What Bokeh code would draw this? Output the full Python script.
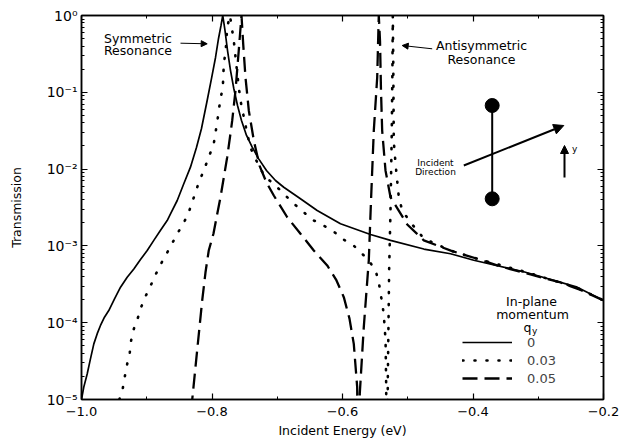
from bokeh.plotting import figure
from bokeh.models import (Range1d, FixedTicker, LinearAxis, LogAxis, Arrow, NormalHead,
                          Label, Legend, LegendItem, CustomJSTickFormatter)
from bokeh.embed import file_html
from bokeh.resources import INLINE

# ---------------- data ----------------
x_q0 = [-1.0, -0.9965, -0.9913, -0.9862, -0.9811, -0.9759, -0.9709, -0.9648, -0.9582, -0.9494,
        -0.9402, -0.930, -0.9198, -0.9096, -0.8993, -0.8892, -0.8789, -0.8687, -0.8636, -0.8533,
        -0.8437, -0.8330, -0.8238, -0.8161, -0.8074, -0.8008, -0.7946, -0.7900, -0.7862, -0.7835,
        -0.7801, -0.7762, -0.7716, -0.7666, -0.7609, -0.7548, -0.7471, -0.7384, -0.7287, -0.7165,
        -0.7027, -0.6900, -0.6650, -0.6388, -0.6031, -0.5571, -0.5264, -0.4754, -0.4345, -0.3988,
        -0.3222, -0.2403, -0.2]
t_q0 = [1.0e-5, 1.45e-5, 2.15e-5, 3.4e-5, 5.3e-5, 7.2e-5, 9.2e-5, 1.18e-4, 1.44e-4, 2.04e-4,
        2.9e-4, 3.9e-4, 5.0e-4, 6.65e-4, 8.7e-4, 1.18e-3, 1.6e-3, 2.14e-3, 2.62e-3, 3.9e-3,
        6.3e-3, 0.0106, 0.0191, 0.0338, 0.0782, 0.151, 0.284, 0.502, 0.741, 1.0,
        0.638, 0.350, 0.192, 0.112, 0.0673, 0.0430, 0.0274, 0.0193, 0.0137, 9.6e-3,
        7.1e-3, 5.8e-3, 4.14e-3, 2.89e-3, 1.94e-3, 1.41e-3, 1.18e-3, 9.1e-4, 7.9e-4, 6.5e-4,
        4.6e-4, 2.9e-4, 1.95e-4]

x_q003 = [-0.9420, -0.9367, -0.9336, -0.930, -0.926, -0.9239, -0.9198, -0.9137, -0.9085, -0.9019,
          -0.8943, -0.8866, -0.878, -0.8697, -0.861, -0.8524, -0.8432, -0.8356, -0.8279, -0.8202,
          -0.8126, -0.805, -0.7973, -0.792, -0.7896, -0.787, -0.7834, -0.7819, -0.779, -0.7767,
          -0.7725, -0.7666, -0.764, -0.7614, -0.759, -0.7563, -0.7513, -0.746, -0.741, -0.7333,
          -0.7257, -0.718, -0.7027, -0.677, -0.6464, -0.616, -0.598, -0.585, -0.5724, -0.560,
          -0.5494, -0.5444, -0.5418, -0.539, -0.5367, -0.534, -0.533, -0.5325, -0.5305, -0.5295,
          -0.5285, -0.5264, -0.5245, -0.5235, -0.5229, -0.5222, -0.5214, -0.5188, -0.5137, -0.5085,
          -0.4958, -0.4754, -0.4345, -0.3935, -0.3222, -0.2403, -0.2]
t_q003 = [1.0e-5, 1.4e-5, 2.0e-5, 2.9e-5, 4.1e-5, 5.9e-5, 8.3e-5, 1.15e-4, 1.6e-4, 2.2e-4,
          3.0e-4, 4.2e-4, 5.9e-4, 7.9e-4, 1.08e-3, 1.48e-3, 2.0e-3, 2.75e-3, 4.27e-3, 6.7e-3,
          9.6e-3, 0.0143, 0.0214, 0.041, 0.058, 0.082, 0.117, 0.235, 0.35, 0.7,
          1.0, 0.47, 0.29, 0.18, 0.117, 0.078, 0.048, 0.029, 0.019, 0.0136,
          0.010, 7.9e-3, 6.1e-3, 3.7e-3, 2.2e-3, 1.6e-3, 1.2e-3, 1.05e-3, 8.3e-4, 6.5e-4,
          4.8e-4, 3.4e-4, 2.4e-4, 1.8e-4, 1.25e-4, 5.9e-5, 1.4e-5, 1.0e-7, 2.0e-5, 1.0e-4,
          5.0e-4, 3.0e-3, 0.03, 0.2, 1.0, 0.25, 0.023, 0.012, 4.3e-3, 2.9e-3,
          2.02e-3, 1.25e-3, 8.7e-4, 6.8e-4, 4.65e-4, 2.85e-4, 1.95e-4]

x_q005 = [-0.8314, -0.8303, -0.8227, -0.815, -0.810, -0.805, -0.7977, -0.792, -0.787, -0.7767,
          -0.7717, -0.769, -0.764, -0.759, -0.7548, -0.7522, -0.7487, -0.7436, -0.7359, -0.7272,
          -0.7165, -0.7053, -0.6847, -0.6644, -0.644, -0.6234, -0.6092, -0.598, -0.5893, -0.5827,
          -0.5775, -0.5755, -0.5735, -0.5674, -0.5597, -0.5563, -0.552, -0.5468, -0.5444, -0.5425,
          -0.541, -0.5392, -0.5341, -0.5264, -0.5008, -0.4754, -0.433, -0.3935, -0.3579, -0.3119,
          -0.2659, -0.2352, -0.2]
t_q005 = [7.2e-6, 1.0e-5, 4.4e-5, 1.95e-4, 4.5e-4, 8.7e-4, 1.45e-3, 2.6e-3, 4.3e-3, 0.0143,
          0.029, 0.043, 0.105, 0.35, 1.0, 0.428, 0.157, 0.058, 0.0236, 0.0111,
          6.7e-3, 4.53e-3, 2.36e-3, 1.44e-3, 8.7e-4, 5.56e-4, 3.55e-4, 2.15e-4, 1.13e-4, 5.3e-5,
          1.45e-5, 1.0e-7, 1.2e-5, 8.7e-5, 6.5e-4, 3.9e-3, 0.032, 0.157, 1.0, 0.47,
          0.105, 0.0318, 9.6e-3, 4.3e-3, 1.9e-3, 1.18e-3, 8.6e-4, 6.8e-4, 5.4e-4, 4.25e-4,
          3.34e-4, 2.67e-4, 1.95e-4]

series_labels = ["0", "0.03", "0.05"]

x_ticks = [-1.0, -0.8, -0.6, -0.4, -0.2]
x_tick_labels = ["\u22121.0", "\u22120.8", "\u22120.6", "\u22120.4", "\u22120.2"]
x_minor_ticks = [-0.9, -0.7, -0.5, -0.3]
y_ticks = [1e-5, 1e-4, 1e-3, 1e-2, 1e-1, 1.0]
y_tick_labels = ["10\u207b\u2075", "10\u207b\u2074", "10\u207b\u00b3", "10\u207b\u00b2", "10\u207b\u00b9", "10\u2070"]
y_minor_ticks = [m * 10.0 ** e for e in range(-5, 0) for m in range(2, 10)]

# ---------------- styling helpers ----------------
FONT = "DejaVu Sans"
L, R, T, B = 81, 603, 15, 399   # frame edges in pixels


def dx(px):
    return -1.0 + (px - L) * 0.8 / (R - L)


def dy(py):
    return 10 ** (-(py - T) * 5.0 / (B - T))


p = figure(width=631, height=445, x_range=Range1d(-1.0, -0.2), y_range=Range1d(1e-5, 1.0),
           y_axis_type="log", output_backend="svg", toolbar_location=None,
           min_border_left=L, min_border_right=631 - R, min_border_top=T, min_border_bottom=445 - B)
p.xgrid.visible = False
p.ygrid.visible = False
p.outline_line_color = "black"
p.outline_line_width = 1.5
p.background_fill_color = "white"
p.border_fill_color = "white"

xfmt = CustomJSTickFormatter(args=dict(tv=x_ticks, tl=x_tick_labels), code="""
for (let i = 0; i < tv.length; i++) { if (Math.abs(tick - tv[i]) < 1e-9) return tl[i]; }
return "";
""")
yfmt = CustomJSTickFormatter(args=dict(tv=y_ticks, tl=y_tick_labels), code="""
for (let i = 0; i < tv.length; i++) { if (Math.abs(tick / tv[i] - 1) < 1e-6) return tl[i]; }
return "";
""")
blank = CustomJSTickFormatter(code="return '';")


def style_axis(ax):
    ax.axis_line_color = "black"
    ax.axis_line_width = 1.5
    ax.major_tick_in = 6
    ax.major_tick_out = 0
    ax.minor_tick_in = 3
    ax.minor_tick_out = 0
    ax.major_tick_line_width = 1.2
    ax.minor_tick_line_width = 1
    ax.major_label_text_font = FONT
    ax.axis_label_text_font = FONT
    ax.axis_label_text_font_style = "normal"
    ax.major_label_text_color = "black"
    ax.axis_label_text_color = "black"


xa = p.xaxis[0]
xa.ticker = FixedTicker(ticks=x_ticks, minor_ticks=x_minor_ticks)
xa.formatter = xfmt
style_axis(xa)
xa.major_label_text_font_size = "13px"
xa.major_label_standoff = 7
xa.axis_label = "Incident Energy (eV)"
xa.axis_label_text_font_size = "12.5px"
xa.axis_label_standoff = 4

ya = p.yaxis[0]
ya.ticker = FixedTicker(ticks=y_ticks, minor_ticks=y_minor_ticks)
ya.formatter = yfmt
style_axis(ya)
ya.major_label_text_font_size = "14px"
ya.major_label_standoff = 4
ya.axis_label = "Transmission"
ya.axis_label_text_font_size = "12.5px"
ya.axis_label_standoff = 20

top = LinearAxis(ticker=FixedTicker(ticks=x_ticks, minor_ticks=x_minor_ticks), formatter=blank)
style_axis(top)
top.major_label_text_font_size = "1px"
top.major_label_standoff = 0
p.add_layout(top, "above")
right = LogAxis(ticker=FixedTicker(ticks=y_ticks, minor_ticks=y_minor_ticks), formatter=blank)
style_axis(right)
right.major_label_text_font_size = "1px"
right.major_label_standoff = 0
p.add_layout(right, "right")

# ---------------- curves ----------------
r0 = p.line(x_q0, t_q0, line_color="black", line_width=1.7)
r1 = p.line(x_q003, t_q003, line_color="black", line_width=2.6, line_dash="1 11", line_cap="round")
r2 = p.line(x_q005, t_q005, line_color="black", line_width=2.3, line_dash="15 7")

legend = Legend(items=[LegendItem(label=series_labels[0], renderers=[r0]),
                       LegendItem(label=series_labels[1], renderers=[r1]),
                       LegendItem(label=series_labels[2], renderers=[r2])],
                location=(462 - L, B - 387), glyph_width=50, glyph_height=18, label_height=18,
                label_standoff=15, spacing=0, padding=0, margin=0,
                border_line_alpha=0, background_fill_alpha=0,
                label_text_font=FONT, label_text_font_size="13px")
p.add_layout(legend)


def text(px, py, s, size="12.5px", align="left", style="normal"):
    p.add_layout(Label(x=dx(px), y=dy(py), text=s, text_font=FONT, text_font_size=size,
                       text_align=align, text_baseline="alphabetic", text_font_style=style,
                       text_color="black"))


# legend title
text(531, 300.5, "In-plane", align="center")
text(532, 313.5, "momentum", align="center")
text(523, 327, "q")
text(531.5, 330.5, "y", size="9px")

# resonance annotations
text(137.5, 37.5, "Symmetric", align="center")
text(137.5, 49.5, "Resonance", align="center")
text(481, 45, "Antisymmetric", align="center")
text(481, 58.5, "Resonance", align="center")
p.add_layout(Arrow(end=NormalHead(size=6, fill_color="black", line_color="black"),
                   x_start=dx(180), y_start=dy(42.7), x_end=dx(206.7), y_end=dy(43.3),
                   line_color="black", line_width=1))
p.add_layout(Arrow(end=NormalHead(size=6, fill_color="black", line_color="black"),
                   x_start=dx(431.7), y_start=dy(48.3), x_end=dx(401.7), y_end=dy(45),
                   line_color="black", line_width=1))

# inset sketch: dimer, incident direction, y axis
p.line([dx(491.7), dx(491.7)], [dy(105), dy(198.3)], line_color="black", line_width=2)
p.scatter([dx(491.7), dx(491.7)], [dy(105), dy(198.3)], size=14, marker="circle",
          fill_color="black", line_color="black")
p.add_layout(Arrow(end=NormalHead(size=10, fill_color="black", line_color="black"),
                   x_start=dx(463.3), y_start=dy(165), x_end=dx(563.3), y_end=dy(125),
                   line_color="black", line_width=2))
p.add_layout(Arrow(end=NormalHead(size=8, fill_color="black", line_color="black"),
                   x_start=dx(564), y_start=dy(177), x_end=dx(564), y_end=dy(145),
                   line_color="black", line_width=2))
text(435, 162, "Incident", size="9px", align="center")
text(435, 171.5, "Direction", size="9px", align="center")
text(571.5, 148.5, "y", size="9px")

open("out.html", "w").write(file_html(p, INLINE))
